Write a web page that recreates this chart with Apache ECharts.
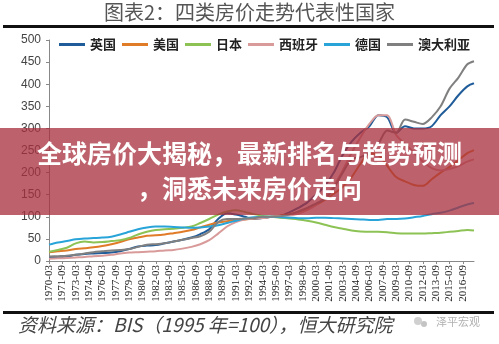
<!DOCTYPE html>
<html>
<head>
<meta charset="utf-8">
<script src="https://cdn.jsdelivr.net/npm/echarts@6/dist/echarts.min.js"></script>
<style>
  html, body { margin: 0; padding: 0; background: #fff; }
  #chart { width: 499px; height: 344px; }
</style>
</head>
<body>
<div id="chart"></div>
<script>
// Quarterly index positions (0 = 1970-03) of the sampled values: each year's Q1, plus the last quarter
const samplePos = [0,4,8,12,16,20,24,28,32,36,40,44,48,52,56,60,64,68,72,76,80,84,88,92,96,100,104,108,112,116,120,124,128,132,136,140,144,148,152,156,160,164,168,172,176,180,184,188,191];

// Axis tick labels, one every six quarters
const tickLabels = ['1970-03','1971-09','1973-03','1974-09','1976-03','1977-09','1979-03','1980-09','1982-03','1983-09','1985-03','1986-09','1988-03','1989-09','1991-03','1992-09','1994-03','1995-09','1997-03','1998-09','2000-03','2001-09','2003-03','2004-09','2006-03','2007-09','2009-03','2010-09','2012-03','2013-09','2015-03','2016-09'];

const seriesNames = ['英国','美国','日本','西班牙','德国','澳大利亚'];

// House price index, 1995 = 100
const ukValues = [7,8,10,14,16,17,18,19,22,27,33,35,36,40,44,48,53,61,72,95,108,105,100,95,97,100,102,110,120,132,150,170,200,240,270,290,305,330,325,290,305,300,300,305,330,350,375,395,402];
const usValues = [20,22,24,27,29,31,34,38,43,49,53,57,58,60,63,66,70,76,82,87,90,92,94,96,98,100,103,106,111,118,127,138,152,168,190,220,243,240,215,190,180,172,170,185,200,213,228,244,251];
const jpValues = [21,25,30,40,44,42,43,45,47,52,60,66,70,72,73,75,78,86,95,105,112,115,111,106,102,100,98,96,94,91,87,82,77,73,69,67,66,66,65,63,62,62,62,63,64,66,68,70,69];
const esValues = [5,6,7,8,9,11,12,14,17,19,20,21,22,24,25,28,32,38,47,62,78,88,94,96,97,100,102,103,107,115,127,145,170,205,245,280,310,330,330,285,265,245,225,210,205,208,215,225,230];
const deValues = [37,42,45,49,51,52,53,55,60,66,72,76,78,78,77,76,75,76,78,81,86,91,96,99,100,100,99,98,97,97,98,98,97,96,95,94,93,93,95,95,96,99,102,106,109,114,121,128,131];
const auValues = [10,11,12,14,17,20,22,24,25,27,32,37,38,40,44,48,52,56,66,88,95,95,96,97,100,100,101,105,112,120,130,140,165,200,230,235,245,265,295,290,320,315,310,325,350,390,415,445,452];

const seriesValues = [ukValues, usValues, jpValues, esValues, deValues, auValues];
const seriesColors = ['#1f5c99','#e07b28','#8dc255','#d99a9a','#28a4d8','#808080'];

const chart = echarts.init(document.getElementById('chart'), null, { renderer: 'canvas' });

const cjk = '"Noto Sans CJK SC", "Noto Sans", sans-serif';

chart.setOption({
  animation: false,
  backgroundColor: '#ffffff',
  legend: {
    top: 33,
    left: 54,
    itemWidth: 26,
    itemHeight: 3,
    itemGap: 6,
    icon: 'rect',
    textStyle: { fontFamily: cjk, fontSize: 13, fontWeight: 'bold', color: '#222' },
    data: seriesNames
  },
  grid: { left: 49, right: 25, top: 40, bottom: 83 },
  xAxis: {
    type: 'value',
    min: 0,
    max: 191,
    interval: 6,
    axisLine: { lineStyle: { color: '#888', width: 1 } },
    axisTick: { show: true, length: 3, lineStyle: { color: '#888' } },
    splitLine: { show: false },
    axisLabel: {
      rotate: 90,
      fontFamily: '"Liberation Serif", serif',
      fontSize: 11,
      color: '#222',
      margin: 4,
      showMaxLabel: false,
      formatter: function (v) {
        const i = Math.round(v / 6);
        return tickLabels[i] || '';
      }
    }
  },
  yAxis: {
    type: 'value',
    min: 0,
    max: 500,
    interval: 50,
    axisLine: { show: true, lineStyle: { color: '#888', width: 1 } },
    axisTick: { show: true, length: 3, lineStyle: { color: '#888' } },
    splitLine: { show: false },
    axisLabel: { fontFamily: '"Liberation Sans", sans-serif', fontSize: 12, color: '#444', margin: 8 }
  },
  series: seriesNames.map(function (name, k) {
    return {
      name: name,
      type: 'line',
      showSymbol: false,
      smooth: 0.3,
      lineStyle: { width: 2, color: seriesColors[k] },
      itemStyle: { color: seriesColors[k] },
      data: samplePos.map(function (p, i) { return [p, seriesValues[k][i]]; })
    };
  }),
  graphic: [
    {
      type: 'text', left: 'center', top: 2, z: 10,
      style: { text: '图表2：四类房价走势代表性国家', font: '20px ' + cjk, fill: '#555' }
    },
    { type: 'rect', shape: { x: 3, y: 25, width: 491, height: 3 }, style: { fill: '#111' }, z: 10 },
    { type: 'rect', shape: { x: 3, y: 311, width: 491, height: 3 }, style: { fill: '#111' }, z: 10 },
    {
      type: 'text', left: 18, top: 315, z: 10,
      style: { text: '资料来源：BIS（1995 年=100），恒大研究院', font: 'italic 19px ' + cjk, fill: '#444' }
    },
    { type: 'circle', shape: { cx: 418, cy: 321, r: 4 }, style: { fill: '#d0d0d0' }, z: 10 },
    { type: 'circle', shape: { cx: 424, cy: 324, r: 3 }, style: { fill: '#c4c4c4' }, z: 10 },
    {
      type: 'text', left: 436, top: 316, z: 10,
      style: { text: '泽平宏观', font: '11px ' + cjk, fill: '#b0b0b0' }
    },
    // banner over the middle of the plot
    {
      type: 'rect', z: 100,
      shape: { x: 0, y: 128, width: 499, height: 87 },
      style: { fill: 'rgba(168,48,62,0.76)' }
    },
    {
      type: 'text', z: 101, left: 'center', top: 141,
      style: {
        text: '全球房价大揭秘，最新排名与趋势预测',
        font: 'bold 25px ' + cjk, fill: '#fff',
        shadowColor: 'rgba(0,0,0,0.3)', shadowBlur: 2
      }
    },
    {
      type: 'text', z: 101, left: 'center', top: 176,
      style: {
        text: '，洞悉未来房价走向',
        font: 'bold 25px ' + cjk, fill: '#fff',
        shadowColor: 'rgba(0,0,0,0.3)', shadowBlur: 2
      }
    }
  ]
});
</script>
</body>
</html>
